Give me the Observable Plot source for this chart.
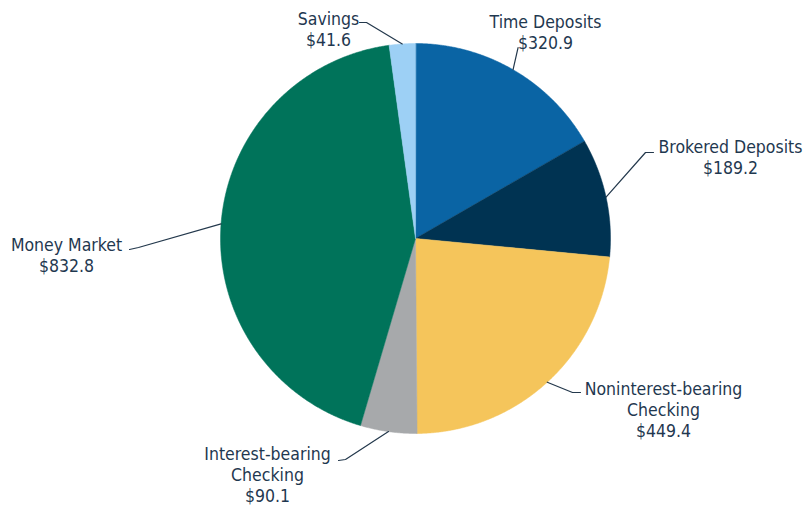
<!DOCTYPE html>
<html>
<head>
<meta charset="utf-8">
<script src="https://cdn.jsdelivr.net/npm/d3@7"></script>
<script src="https://cdn.jsdelivr.net/npm/@observablehq/plot@0.6"></script>
<style>
  html, body { margin: 0; padding: 0; background: #ffffff; }
  #chart { width: 804px; height: 507px; }
</style>
</head>
<body>
<div id="chart"></div>
<script>
// ---- data ----
const categories = ["Time Deposits", "Brokered Deposits", "Noninterest-bearing Checking", "Interest-bearing Checking", "Money Market", "Savings"];
const values = [320.9, 189.2, 449.4, 90.1, 832.8, 41.6];
const labelLines = ["Time Deposits", "Brokered Deposits", "Noninterest-bearing\nChecking", "Interest-bearing\nChecking", "Money Market", "Savings"];
const colors = ["#0a64a4", "#003352", "#f5c55b", "#a7a9ab", "#00735a", "#9dd0f5"];

// ---- layout (pixels relative to the pie centre, y up) ----
const W = 804, H = 507, CX = 415, CY = 238, R = 195;
const labelLayout = [
  {text: [130, 207], elbow: null, end: null},
  {text: [315, 82], elbow: [230, 86], end: [238, 86]},
  {text: [248, -171], elbow: [157, -154], end: [165, -154]},
  {text: [-148, -236], elbow: [-70, -221], end: [-77, -222]},
  {text: [-349, -16], elbow: [-277, -9], end: [-286, -11]},
  {text: [-87, 210], elbow: [-49, 216], end: [-56, 216]}
];

const arcs = d3.pie().sort(null).value(d => d)(values);

// slice outlines: centre + arc points (angle measured clockwise from 12 o'clock)
const slicePts = [];
arcs.forEach((a, i) => {
  slicePts.push({cat: categories[i], x: 0, y: 0});
  const n = Math.max(2, Math.ceil((a.endAngle - a.startAngle) / 0.005));
  for (let k = 0; k <= n; k++) {
    const t = a.startAngle + (a.endAngle - a.startAngle) * k / n;
    slicePts.push({cat: categories[i], x: R * Math.sin(t), y: R * Math.cos(t)});
  }
});

// leaders: from the slice edge at its mid angle to the elbow and end point
const leaders = [];
const labels = [];
arcs.forEach((a, i) => {
  const m = (a.startAngle + a.endAngle) / 2;
  const L = labelLayout[i];
  const edge = {x: R * Math.sin(m), y: R * Math.cos(m)};
  leaders.push({cat: categories[i], ...edge});
  if (L.elbow) {
    leaders.push({cat: categories[i], x: L.elbow[0], y: L.elbow[1]});
    leaders.push({cat: categories[i], x: L.end[0], y: L.end[1]});
  } else {
    leaders.push({cat: categories[i], x: edge.x + 5, y: edge.y + 22});
  }
  labels.push({x: L.text[0], y: L.text[1], label: labelLines[i] + "\n$" + values[i].toFixed(1)});
});

const plot = Plot.plot({
  width: W,
  height: H,
  margin: 0,
  x: {domain: [-CX, W - CX], axis: null},
  y: {domain: [-(H - CY), CY], axis: null},
  color: {domain: categories, range: colors},
  style: {fontFamily: "'DejaVu Sans Condensed', 'DejaVu Sans', sans-serif", background: "#ffffff"},
  marks: [
    Plot.line(slicePts, {x: "x", y: "y", z: "cat", fill: "cat", stroke: "cat", strokeWidth: 0.5, curve: "linear-closed"}),
    Plot.line(leaders, {x: "x", y: "y", z: "cat", stroke: "#23384c", strokeWidth: 1.2}),
    Plot.text(labels, {x: "x", y: "y", text: "label", fill: "#1f3850", fontSize: 17.5, lineHeight: 1.2, textAnchor: "middle"})
  ]
});
document.getElementById("chart").appendChild(plot);
</script>
</body>
</html>
